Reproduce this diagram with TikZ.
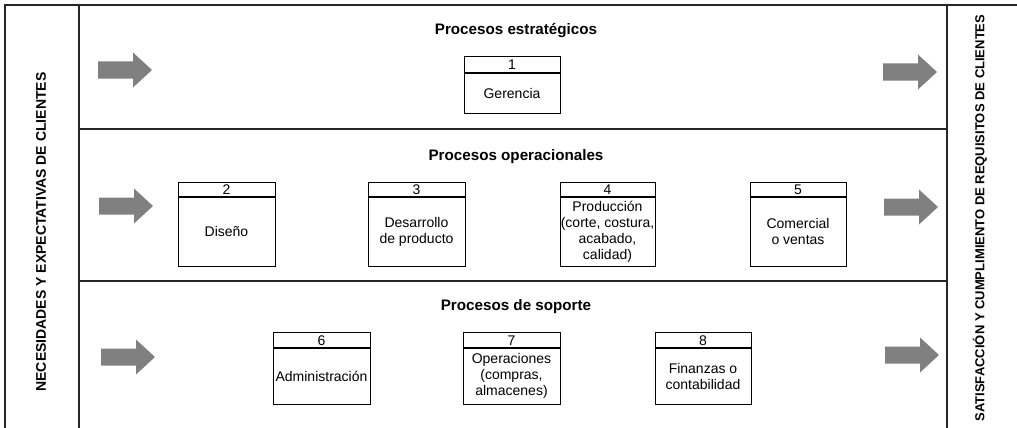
\documentclass[tikz,border=0pt]{standalone}
\usepackage{fontspec}
\setmainfont{Liberation Sans}
\begin{document}
\begin{tikzpicture}[x=1pt,y=-1pt,
  frame/.style={draw=black!85,line width=1.6pt},
  boxline/.style={draw=black,line width=1.2pt},
  title/.style={font=\fontsize{15.2}{17}\selectfont\bfseries},
  body/.style={font=\fontsize{14}{16}\selectfont,align=center,inner sep=0pt},
  vtext/.style={font=\fontsize{13}{15}\selectfont\bfseries,rotate=90,inner sep=0pt},
  garrow/.style={fill=black!50,draw=none}]
\useasboundingbox (0,0) rectangle (1017,428);
% frame
\draw[frame] (5,428) -- (5,5) -- (1017,5);
\draw[frame] (79,5) -- (79,428);
\draw[frame] (947,5) -- (947,428);
\draw[frame] (79,129) -- (947,129);
\draw[frame] (79,281) -- (947,281);
% side texts
\node[vtext,font=\fontsize{14}{16}\selectfont\bfseries] (lefttxt) at (41,232) {NECESIDADES Y EXPECTATIVAS DE CLIENTES};
\node[vtext] (righttxt) at (980,218) {SATISFACCIÓN Y CUMPLIMIENTO DE REQUISITOS DE CLIENTES};
% titles
\node[title] (t1) at (516,31) {Procesos estratégicos};
\node[title] (t2) at (516,157) {Procesos operacionales};
\node[title] (t3) at (516,307) {Procesos de soporte};
% arrows
\newcommand\grayarrow[2]{\fill[garrow] (#1,#2-8.5) -- (#1+35,#2-8.5) -- (#1+35,#2-17.5) -- (#1+54,#2) -- (#1+35,#2+17.5) -- (#1+35,#2+8.5) -- (#1,#2+8.5) -- cycle;}
\grayarrow{98}{70}
\grayarrow{883}{72}
\grayarrow{99}{206}
\grayarrow{884}{207}
\grayarrow{101}{357}
\grayarrow{885}{355}
% process boxes: name, x1, y1, x2, ydiv, y2, number, text
\newcommand\procbox[8]{%
  \node[boxline,minimum width=#4-#2,minimum height=#6-#3,inner sep=0pt,anchor=north west] (#1) at (#2,#3) {};
  \draw[boxline] (#2,#5) -- (#4,#5);
  \node[body] (#1num) at ({(#2+#4)/2},{(#3+#5)/2+0.5}) {#7};
  \node[body] (#1txt) at ({(#2+#4)/2},{(#5+#6)/2}) {#8};
}
\procbox{b1}{464}{56}{560}{73}{113}{1}{Gerencia}
\procbox{b2}{178}{182}{275}{197}{266}{2}{Diseño}
\procbox{b3}{368}{182}{465}{197}{266}{3}{Desarrollo\\de producto}
\procbox{b4}{560}{182}{655}{197}{266}{4}{Producción\\(corte, costura,\\acabado,\\calidad)}
\procbox{b5}{750}{182}{846}{197}{266}{5}{Comercial\\o ventas}
\procbox{b6}{273}{332}{370}{348}{404}{6}{Administración}
\procbox{b7}{463}{332}{560}{348}{404}{7}{Operaciones\\(compras,\\almacenes)}
\procbox{b8}{655}{332}{751}{348}{404}{8}{Finanzas o\\contabilidad}
\end{tikzpicture}
\end{document}
